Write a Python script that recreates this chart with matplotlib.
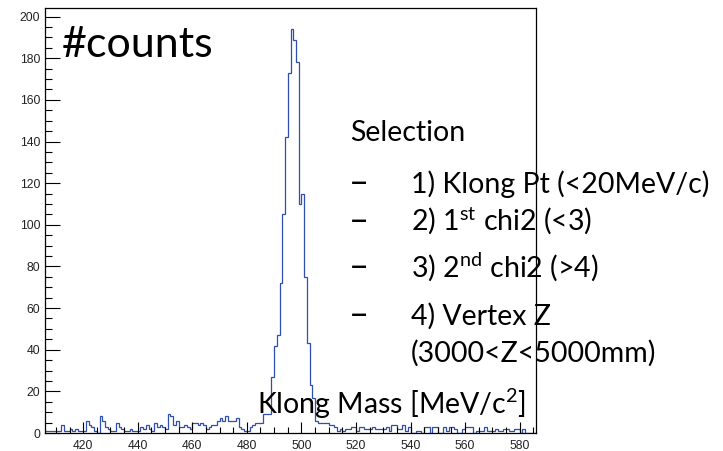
import matplotlib
matplotlib.use("Agg")
import matplotlib.pyplot as plt
import matplotlib.ticker as plticker
import numpy as np

# histogram: 180 bins of 1 MeV from 406 to 586
x_lo = 406
x_hi = 586
n_bins = 180

# 406 .. 488
counts_left = [1, 1, 1, 1, 1, 1, 4, 1, 1, 2,
               1, 2, 1, 1, 1, 6, 4, 3, 1, 0,
               8, 6, 3, 2, 1, 1, 5, 3, 2, 1,
               1, 2, 1, 1, 1, 3, 2, 4, 2, 1,
               5, 3, 4, 3, 2, 9, 8, 4, 6, 3,
               3, 4, 3, 2, 5, 5, 4, 5, 4, 2,
               3, 4, 4, 6, 7, 6, 8, 6, 6, 6,
               7, 3, 2, 1, 1, 3, 4, 5, 5, 5,
               9, 9, 9]
# 489 .. 504
counts_peak = [27, 42, 47, 72, 105, 142, 173, 194, 189, 178, 110, 115, 75, 43, 23, 17]
# 505 .. 585
counts_right = [6, 5, 5, 5, 5,
                4, 4, 3, 1, 2, 1, 2, 2, 3, 3,
                1, 3, 3, 2, 2, 2, 3, 2, 2, 2,
                2, 3, 1, 4, 4, 2, 2, 4, 1, 3,
                0, 0, 1, 1, 0, 3, 3, 0, 3, 3,
                0, 0, 3, 1, 3, 3, 2, 0, 0, 2,
                3, 3, 3, 0, 1, 1, 1, 3, 1, 1,
                1, 2, 1, 1, 2, 2, 1, 1, 2, 2,
                0, 2, 0, 0, 0, 0]

y_max = 204
x_ticks = [420, 440, 460, 480, 500, 520, 540, 560, 580]
y_ticks = [0, 20, 40, 60, 80, 100, 120, 140, 160, 180, 200]

title_txt = "#counts"
xlabel_txt = "Klong Mass [MeV/c$^{2}$]"
sel_head = "Selection"
sel_items = ["1) Klong Pt (<20MeV/c)",
             "2) 1$^{\\mathrm{st}}$ chi2 (<3)",
             "3) 2$^{\\mathrm{nd}}$ chi2 (>4)",
             "4) Vertex Z"]
sel_tail = "(3000<Z<5000mm)"

plt.rcParams["mathtext.fontset"] = "custom"
plt.rcParams["mathtext.rm"] = "Lato"
plt.rcParams["mathtext.it"] = "Lato:italic"

W, H = 723, 451
fig = plt.figure(figsize=(W / 100, H / 100), dpi=100)
ax = fig.add_axes([45 / W, (H - 433) / H, (536 - 45) / W, (433 - 8.3) / H])

counts = np.array(counts_left + counts_peak + counts_right, dtype=float)
edges = np.linspace(x_lo, x_hi, n_bins + 1)
ax.stairs(counts, edges, baseline=None, color="#2f4fae", linewidth=0.9)

ax.set_xlim(x_lo, x_hi)
ax.set_ylim(0, y_max)
ax.set_xticks(x_ticks)
ax.set_yticks(y_ticks)
ax.xaxis.set_minor_locator(plticker.MultipleLocator(5))
ax.yaxis.set_minor_locator(plticker.MultipleLocator(5))
ax.tick_params(axis="both", which="both", direction="in", top=False, right=False,
               colors="black", width=0.8)
ax.tick_params(axis="y", which="major", length=10.5, pad=3.5)
ax.tick_params(axis="y", which="minor", length=5.3)
ax.tick_params(axis="x", which="major", length=8, pad=5)
ax.tick_params(axis="x", which="minor", length=4)
for lab in ax.get_xticklabels() + ax.get_yticklabels():
    lab.set_fontfamily("Liberation Sans")
    lab.set_fontsize(8.7)
    lab.set_color("#222222")
for s in ax.spines.values():
    s.set_linewidth(0.9)
    s.set_color("black")

def px_text(x, y, s, size):
    fig.text(x / W, 1 - y / H, s, fontsize=size, family="Lato", color="black",
             ha="left", va="baseline")

px_text(62, 57, title_txt, 31)
px_text(350, 141, sel_head, 20.5)
for yb, item in zip([193, 231, 277, 325], sel_items):
    px_text(349, yb, "\u2013", 25)
    px_text(411, yb, item, 20.5)
px_text(411, 362, sel_tail, 20.5)
px_text(257, 414, xlabel_txt, 20.5)

fig.savefig("out.png", dpi=100)
